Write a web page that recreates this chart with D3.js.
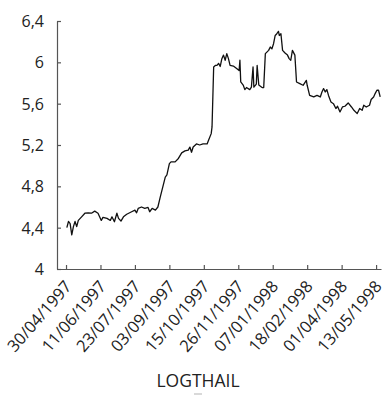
<!DOCTYPE html>
<html>
<head>
<meta charset="utf-8">
<script src="https://cdn.jsdelivr.net/npm/d3@7"></script>
<style>
html,body{margin:0;padding:0;background:#fff;}
svg{display:block;}
text{font-family:"Open Sans","Noto Sans",sans-serif;fill:#222;}
</style>
</head>
<body>
<svg id="chart" width="386" height="395"></svg>
<script>
const dates = [
"1997-05-01","1997-05-03","1997-05-05","1997-05-07","1997-05-09","1997-05-11","1997-05-13","1997-05-15","1997-05-19","1997-05-23",
"1997-05-27","1997-05-31","1997-06-04","1997-06-08","1997-06-12","1997-06-14","1997-06-19","1997-06-23","1997-06-25","1997-06-28",
"1997-07-01","1997-07-03","1997-07-06","1997-07-09","1997-07-13","1997-07-19","1997-07-23","1997-07-25","1997-07-27","1997-07-31",
"1997-08-04","1997-08-08","1997-08-10","1997-08-13","1997-08-17","1997-08-20","1997-08-23","1997-08-25","1997-08-29","1997-08-31",
"1997-09-03","1997-09-05","1997-09-10","1997-09-14","1997-09-18","1997-09-22","1997-09-26","1997-09-28","1997-09-30","1997-10-02",
"1997-10-06","1997-10-10","1997-10-14","1997-10-19","1997-10-21","1997-10-24","1997-10-25","1997-10-27","1997-10-29","1997-10-31",
"1997-11-02","1997-11-04","1997-11-06","1997-11-08","1997-11-10","1997-11-12","1997-11-14","1997-11-16","1997-11-20","1997-11-24",
"1997-11-27","1997-11-28","1997-11-29","1997-12-02","1997-12-04","1997-12-06","1997-12-10","1997-12-12","1997-12-14","1997-12-15",
"1997-12-18","1997-12-19","1997-12-21","1997-12-25","1997-12-27","1997-12-29","1998-01-02","1998-01-04","1998-01-06","1998-01-08",
"1998-01-10","1998-01-12","1998-01-14","1998-01-15","1998-01-17","1998-01-19","1998-01-22","1998-01-25","1998-01-27","1998-01-29",
"1998-01-31","1998-02-03","1998-02-05","1998-02-09","1998-02-13","1998-02-17","1998-02-18","1998-02-21","1998-02-26","1998-03-02",
"1998-03-06","1998-03-08","1998-03-10","1998-03-12","1998-03-14","1998-03-16","1998-03-19","1998-03-22","1998-03-25","1998-03-27",
"1998-03-30","1998-04-02","1998-04-05","1998-04-09","1998-04-13","1998-04-16","1998-04-20","1998-04-23","1998-04-26","1998-04-28",
"1998-05-01","1998-05-05","1998-05-07","1998-05-10","1998-05-12","1998-05-14","1998-05-16","1998-05-18"
];
const logthail = [
4.40,4.46,4.44,4.33,4.41,4.46,4.41,4.47,4.505,4.54,
4.544,4.54,4.56,4.54,4.47,4.50,4.49,4.47,4.505,4.457,
4.54,4.49,4.464,4.505,4.53,4.554,4.57,4.544,4.586,4.60,
4.586,4.596,4.554,4.586,4.57,4.60,4.70,4.763,4.89,4.91,
5.02,5.037,5.037,5.07,5.124,5.143,5.15,5.18,5.13,5.18,
5.21,5.20,5.21,5.21,5.25,5.31,5.375,5.955,5.97,5.97,
5.99,5.96,6.035,6.07,6.02,6.084,6.036,5.97,5.964,5.94,
5.92,6.02,5.81,5.78,5.736,5.756,5.736,5.76,5.955,5.76,
5.79,5.97,5.78,5.756,5.756,6.084,6.116,6.148,6.13,6.18,
6.26,6.277,6.30,6.26,6.277,6.116,6.09,6.07,6.036,6.02,
6.116,6.07,5.81,5.794,5.778,5.826,5.778,5.68,5.665,5.68,
5.665,5.713,5.746,5.713,5.736,5.68,5.616,5.60,5.553,5.575,
5.52,5.568,5.575,5.607,5.568,5.536,5.504,5.553,5.536,5.585,
5.568,5.585,5.64,5.665,5.70,5.73,5.73,5.665
];
const xTickDates = ["30/04/1997","11/06/1997","23/07/1997","03/09/1997","15/10/1997","26/11/1997","07/01/1998","18/02/1998","01/04/1998","13/05/1998"];
const yTicks = [4, 4.4, 4.8, 5.2, 5.6, 6, 6.4];
const seriesName = "LOGTHAIL";

const parseISO = d3.timeParse("%Y-%m-%d");
const parseLabel = d3.timeParse("%d/%m/%Y");
const fmtLabel = d3.timeFormat("%d/%m/%Y");
const data = dates.map((d, i) => ({date: parseISO(d), value: logthail[i]}));

const svg = d3.select("#chart");
const plotLeft = 57, plotRight = 381, plotTop = 21, plotBottom = 269;

const x = d3.scaleTime()
  .domain([parseISO("1997-04-19"), parseISO("1998-05-19")])
  .range([plotLeft, plotRight]);
const y = d3.scaleLinear().domain([4, 6.4]).range([plotBottom, plotTop]);

const axisColor = "#555";

// X axis
const xAxis = d3.axisBottom(x)
  .tickValues(xTickDates.map(parseLabel))
  .tickFormat(fmtLabel)
  .tickSizeInner(-4).tickSizeOuter(0).tickPadding(0);
const gx = svg.append("g").attr("transform", `translate(0,${plotBottom})`).call(xAxis);
gx.select(".domain").attr("stroke", axisColor).attr("stroke-width", 1.2);
gx.selectAll(".tick line").attr("stroke", axisColor).attr("stroke-width", 1.2);
gx.selectAll(".tick text")
  .attr("font-size", 16.5)
  .attr("text-anchor", "end")
  .attr("y", 0)
  .attr("dy", 0)
  .attr("transform", "translate(6,18) rotate(-49)")
  .style("font-family", "'Open Sans','Noto Sans',sans-serif")
  .attr("fill", "#222");

// Y axis
const yAxis = d3.axisLeft(y)
  .tickValues(yTicks)
  .tickFormat(d => d3.format(".1~f")(d).replace(".", ","))
  .tickSizeInner(-4).tickSizeOuter(0).tickPadding(13);
const gy = svg.append("g").attr("transform", `translate(${plotLeft},0)`).call(yAxis);
gy.select(".domain").attr("stroke", axisColor).attr("stroke-width", 1.2);
gy.selectAll(".tick line").attr("stroke", axisColor).attr("stroke-width", 1.2);
gy.selectAll(".tick text")
  .attr("font-size", 16)
  .attr("dy", "0.35em")
  .style("font-family", "'Open Sans','Noto Sans',sans-serif")
  .attr("fill", "#222");

// Line
const line = d3.line().x(d => x(d.date)).y(d => y(d.value));
svg.append("path").datum(data)
  .attr("fill", "none")
  .attr("stroke", "#111")
  .attr("stroke-width", 1.3)
  .attr("stroke-linejoin", "round")
  .attr("d", line);

// Series label
svg.append("text")
  .attr("x", 198).attr("y", 387)
  .attr("text-anchor", "middle")
  .attr("font-size", 17.5)
  .text(seriesName);
svg.append("line")
  .attr("x1", 194).attr("x2", 202).attr("y1", 394).attr("y2", 394)
  .attr("stroke", "#ccc").attr("stroke-width", 1.5);
</script>
</body>
</html>
